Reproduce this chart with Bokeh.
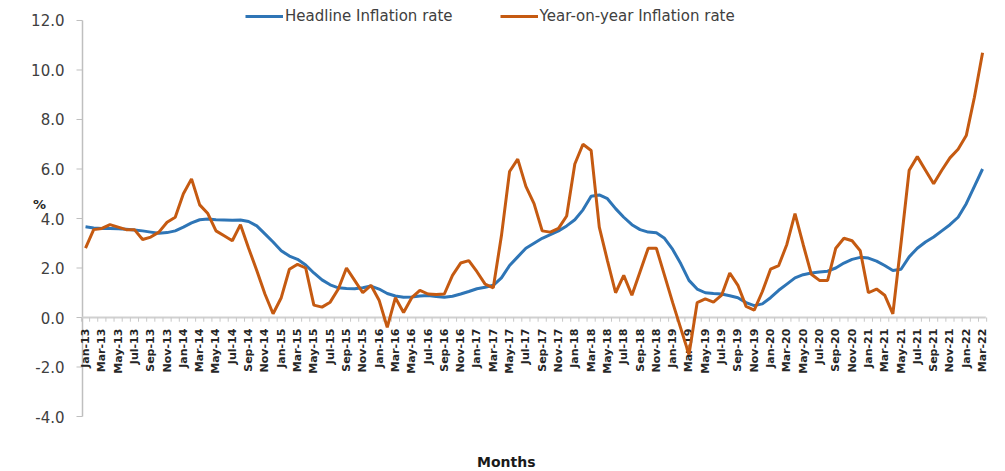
import math

from bokeh.core.properties import value
from bokeh.embed import file_html
from bokeh.models import (ColumnDataSource, Grid, Label, Legend, LegendItem,
                          Range1d)
from bokeh.plotting import figure
from bokeh.resources import INLINE

# ---------------------------------------------------------------- data
MONTH_ABBR = ["Jan", "Feb", "Mar", "Apr", "May", "Jun",
              "Jul", "Aug", "Sep", "Oct", "Nov", "Dec"]
# Jan-13 ... Mar-22, monthly
months = [f"{m}-{y}" for y in range(13, 23) for m in MONTH_ABBR][:111]

# Headline inflation rate (%)
headline = [
    3.67, 3.62, 3.60, 3.60, 3.59, 3.57, 3.54, 3.50, 3.45, 3.40, 3.43, 3.50,
    3.65, 3.82, 3.95, 3.98, 3.95, 3.94, 3.93, 3.94, 3.88, 3.70, 3.38, 3.05,
    2.70, 2.48, 2.35, 2.12, 1.80, 1.52, 1.32, 1.20, 1.17, 1.16, 1.20, 1.27,
    1.15, 0.97, 0.87, 0.82, 0.83, 0.87, 0.89, 0.85, 0.82, 0.86, 0.95, 1.05,
    1.16, 1.22, 1.30, 1.60, 2.10, 2.45, 2.80, 3.00, 3.20, 3.35, 3.50, 3.70,
    3.95, 4.35, 4.90, 4.95, 4.80, 4.40, 4.05, 3.75, 3.55, 3.45, 3.42, 3.20,
    2.75, 2.17, 1.50, 1.15, 1.00, 0.97, 0.95, 0.88, 0.80, 0.60, 0.48, 0.55,
    0.80, 1.10, 1.35, 1.60, 1.73, 1.80, 1.84, 1.87, 2.00, 2.20, 2.35, 2.43,
    2.40, 2.28, 2.10, 1.90, 1.95, 2.45, 2.80, 3.05, 3.25, 3.50, 3.75, 4.05,
    4.60, 5.30, 6.00,
]

# Year-on-year inflation rate (%)
yoy = [
    2.80, 3.55, 3.60, 3.75, 3.65, 3.55, 3.55, 3.15, 3.25, 3.45, 3.85, 4.05,
    5.00, 5.60, 4.55, 4.20, 3.50, 3.30, 3.10, 3.75, 2.80, 1.90, 0.95, 0.15,
    0.80, 1.95, 2.15, 2.00, 0.50, 0.42, 0.62, 1.15, 2.00, 1.50, 1.00, 1.30,
    0.70, -0.40, 0.80, 0.20, 0.80, 1.10, 0.95, 0.93, 0.95, 1.70, 2.20, 2.30,
    1.85, 1.35, 1.20, 3.30, 5.90, 6.40, 5.30, 4.60, 3.50, 3.45, 3.60, 4.10,
    6.20, 7.00, 6.75, 3.65, 2.30, 1.00, 1.70, 0.90, 1.85, 2.80, 2.80, 1.70,
    0.60, -0.45, -1.50, 0.60, 0.75, 0.62, 0.90, 1.80, 1.30, 0.45, 0.30, 1.05,
    1.95, 2.10, 2.95, 4.20, 2.95, 1.75, 1.50, 1.50, 2.80, 3.20, 3.10, 2.70,
    1.00, 1.15, 0.90, 0.15, 3.00, 5.95, 6.50, 5.95, 5.40, 5.95, 6.45, 6.80,
    7.35, 8.90, 10.70,
]

y_ticks = [-4, -2, 0, 2, 4, 6, 8, 10, 12]
y_tick_labels = [f"{t:.1f}" for t in y_ticks]

# ---------------------------------------------------------------- style
FONT = "DejaVu Sans"
BLUE = "#2E75B6"
ORANGE = "#C55A11"
TEXT = "#404040"
AXIS = "#bfbfbf"

# horizontal scale: 8.155 px per month, vertical: 24.75 px per percent
PX_X = 8.155
PX_Y = 24.75

idx = list(range(len(months)))
label_idx = idx[::2]
label_text = months[::2]
boundaries = [i - 0.5 for i in range(len(months) + 1)]

# value axis sits just left of the first month
axis_x = idx[0] - 0.37

p = figure(
    width=1005, height=471,
    output_backend="svg", toolbar_location=None,
    x_range=Range1d(axis_x - 82 / PX_X, axis_x + 923 / PX_X),
    y_range=Range1d(-6.222, 12.808),
    x_axis_location=None, y_axis_location=None,
    min_border_left=0, min_border_right=0,
    min_border_top=0, min_border_bottom=0,
)
p.outline_line_color = None
p.background_fill_color = "white"
p.border_fill_color = "white"
for obj in p.center:
    if isinstance(obj, Grid):
        obj.visible = False

# value axis: rule, outward ticks and labels
p.segment(x0=[axis_x], y0=[y_ticks[0]], x1=[axis_x], y1=[y_ticks[-1]],
          line_color=AXIS, line_width=1.5)
p.segment(x0=[axis_x - 6 / PX_X] * len(y_ticks), y0=y_ticks,
          x1=[axis_x] * len(y_ticks), y1=y_ticks,
          line_color=AXIS, line_width=1)
p.text(x=[axis_x - 18 / PX_X] * len(y_ticks), y=y_ticks, text=y_tick_labels,
       text_align="right", text_baseline="middle",
       text_font=value(FONT), text_font_size="15px", text_color=TEXT)
p.text(x=[axis_x - 43 / PX_X], y=[4.0 + 14 / PX_Y], text=["%"],
       text_align="center", text_baseline="middle",
       text_font=value(FONT), text_font_size="13px",
       text_font_style="bold", text_color="#262626")

# category axis drawn along y = 0
p.segment(x0=[idx[0] - 0.4], y0=[0], x1=[idx[-1] + 0.4], y1=[0],
          line_color="#d0d0d0", line_width=2)
p.segment(x0=boundaries, y0=[0] * len(boundaries),
          x1=boundaries, y1=[-0.17] * len(boundaries),
          line_color="#c8c8c8", line_width=1)
p.text(x=label_idx, y=[-0.45] * len(label_idx), text=label_text,
       angle=math.pi / 2, text_align="right", text_baseline="middle",
       text_font=value(FONT), text_font_size="11px",
       text_font_style="bold", text_color="#262626")

# series
src = ColumnDataSource(dict(x=idx, headline=headline, yoy=yoy))
r_head = p.line("x", "headline", source=src, line_color=BLUE, line_width=3)
r_yoy = p.line("x", "yoy", source=src, line_color=ORANGE, line_width=3)

legend = Legend(
    items=[LegendItem(label="Headline Inflation rate", renderers=[r_head]),
           LegendItem(label="Year-on-year Inflation rate", renderers=[r_yoy])],
    orientation="horizontal", location=(245, 445),
    glyph_width=38, glyph_height=20, label_standoff=2, spacing=47,
    padding=0, margin=0, border_line_color=None, background_fill_alpha=0,
    label_text_font=FONT, label_text_font_size="15px",
    label_text_color=TEXT,
)
p.add_layout(legend)

p.add_layout(Label(x=51.6, y=-5.82, text="Months", text_align="center",
                   text_baseline="middle", text_font=FONT,
                   text_font_size="14px", text_font_style="bold",
                   text_color="#1a1a1a"))

open("out.html", "w").write(file_html(p, INLINE))
